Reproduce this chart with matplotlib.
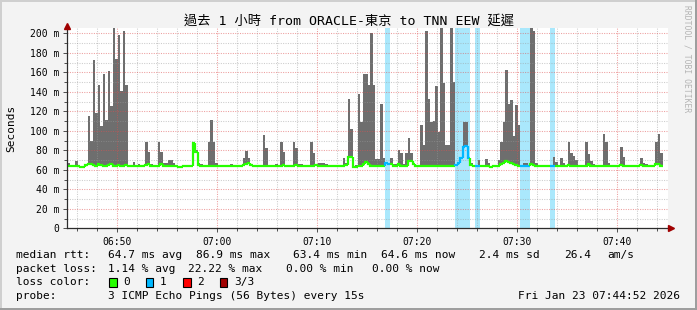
import datetime as dt
import matplotlib
matplotlib.use("Agg")
import matplotlib.pyplot as plt
import matplotlib.dates as mdates
from matplotlib.collections import LineCollection
from matplotlib.patches import Rectangle
from matplotlib.ticker import FixedLocator, MultipleLocator

# ---------------- data ----------------
title = "過去 1 小時 from ORACLE-東京 to TNN EEW 延遲"
first_sample = "2026-01-23 06:45:03"
step_seconds = 15

# top of the smoke (slowest ping) per 15 s step, ms
rtt_max_ms = [
    67, 65, 65, 69, 65, 63, 63, 65, 115, 90,
    173, 118, 147, 105, 158, 111, 161, 125, 205, 174,
    198, 141, 202, 147, 65, 65, 68, 65, 66, 65,
    65, 89, 78, 66, 65, 65, 89, 78, 67, 67,
    70, 70, 67, 65, 63, 63, 65, 65, 65, 65,
    88, 80, 67, 66, 65, 65, 88, 111, 88, 67,
    65, 65, 65, 65, 65, 66, 65, 65, 65, 65,
    72, 79, 72, 66, 65, 65, 65, 65, 96, 82,
    65, 65, 65, 66, 65, 88, 78, 65, 65, 65,
    88, 82, 66, 66, 65, 65, 65, 88, 77, 65,
    67, 67, 67, 66, 65, 65, 65, 65, 65, 65,
    72, 67, 133, 102, 64, 65, 138, 109, 158, 158,
    147, 200, 147, 71, 71, 127, 72, 67, 66, 72,
    66, 66, 80, 77, 66, 77, 93, 77, 67, 65,
    65, 106, 85, 202, 133, 109, 110, 146, 99, 205,
    149, 85, 85, 205, 150, 66, 67, 72, 109, 109,
    72, 67, 65, 65, 70, 65, 65, 71, 67, 63,
    65, 65, 70, 89, 109, 162, 127, 132, 95, 126,
    106, 65, 67, 67, 65, 205, 202, 67, 65, 65,
    65, 65, 65, 65, 73, 68, 65, 72, 67, 65,
    88, 77, 74, 70, 65, 65, 65, 89, 76, 69,
    66, 65, 65, 65, 97, 88, 67, 65, 65, 65,
    65, 83, 73, 65, 65, 65, 65, 65, 65, 72,
    67, 66, 65, 65, 65, 89, 97, 77,
]

# median rtt per step, ms
rtt_median_ms = [
    64.3, 64.3, 64.0, 64.3, 64.3, 62.5, 62.5, 65.0, 65.5, 65.5,
    64.5, 64.3, 65.5, 65.0, 64.3, 64.3, 64.5, 65.5, 64.3, 64.3,
    64.5, 64.3, 64.3, 64.5, 64.3, 64.3, 64.3, 64.3, 64.3, 64.3,
    64.3, 65.0, 65.5, 64.3, 64.3, 64.3, 64.3, 65.5, 64.3, 64.3,
    64.3, 64.3, 64.3, 64.3, 62.5, 62.5, 64.0, 64.3, 64.3, 64.3,
    87.0, 78.0, 65.0, 64.3, 64.3, 64.3, 64.3, 64.3, 64.3, 64.3,
    64.3, 64.3, 64.3, 64.3, 64.3, 64.3, 64.3, 64.3, 64.3, 64.3,
    65.0, 66.0, 66.5, 64.8, 64.3, 64.3, 64.3, 64.3, 64.3, 64.3,
    64.3, 64.3, 64.3, 64.3, 64.3, 64.3, 65.0, 64.3, 64.3, 64.3,
    64.3, 64.5, 64.3, 64.3, 64.3, 64.3, 64.3, 64.3, 64.3, 65.0,
    64.3, 64.3, 64.3, 64.3, 64.3, 64.3, 64.3, 64.3, 64.3, 64.3,
    64.3, 65.0, 73.0, 73.0, 62.5, 63.0, 64.3, 64.3, 66.0, 68.0,
    66.0, 64.3, 64.3, 64.3, 64.3, 64.3, 64.3, 67.0, 66.0, 66.0,
    64.3, 64.3, 65.5, 64.3, 64.3, 64.3, 69.0, 69.0, 66.0, 64.3,
    64.3, 64.0, 64.3, 64.3, 64.3, 64.3, 64.3, 64.3, 64.3, 64.3,
    64.3, 64.3, 64.3, 64.3, 64.3, 64.5, 66.6, 72.0, 83.0, 84.0,
    72.0, 65.0, 64.3, 64.3, 64.3, 64.3, 64.3, 64.3, 64.3, 62.5,
    64.3, 64.3, 64.3, 65.5, 67.0, 69.0, 68.0, 67.0, 66.0, 65.0,
    64.3, 64.3, 64.3, 64.3, 64.3, 66.0, 65.0, 64.3, 64.3, 64.3,
    64.3, 64.3, 64.3, 64.3, 64.3, 64.3, 64.3, 64.3, 64.3, 64.3,
    65.0, 64.3, 64.3, 64.3, 64.3, 64.3, 64.3, 64.3, 65.5, 64.3,
    64.3, 64.3, 64.3, 64.3, 64.3, 64.3, 64.3, 64.3, 64.3, 64.3,
    64.3, 65.0, 64.3, 64.3, 64.3, 64.3, 64.3, 64.3, 64.3, 65.0,
    64.3, 64.3, 64.3, 64.3, 64.3, 65.5, 65.5, 64.3,
]

# lost pings (of 3) per step
loss_count = [0] * 238
for _j in [127, 128, 155, 156, 157, 158, 159, 160, 163, 164,
           181, 182, 183, 184, 193, 194]:
    loss_count[_j] = 1

y_ticks_ms = [0, 20, 40, 60, 80, 100, 120, 140, 160, 180, 200]
y_tick_labels = ["0", "20 m", "40 m", "60 m", "80 m", "100 m", "120 m",
                 "140 m", "160 m", "180 m", "200 m"]
x_tick_labels = ["06:50", "07:00", "07:10", "07:20", "07:30", "07:40"]
y_label = "Seconds"

loss_legend_labels = ["0", "1", "2", "3/3"]
loss_colors = ["#26ff00", "#00b8ff", "#ff0000", "#a00000"]

stats_rtt = ["median rtt:", "64.7 ms avg", "86.9 ms max", "63.4 ms min",
             "64.6 ms now", "2.4 ms sd", "26.4", "am/s"]
stats_loss = ["packet loss:", "1.14 % avg", "22.22 % max", "0.00 % min",
              "0.00 % now"]
probe_text = ["probe:", "3 ICMP Echo Pings (56 Bytes) every 15s"]
timestamp_text = "Fri Jan 23 07:44:52 2026"
watermark = "RRDTOOL / TOBI OETIKER"

# ---------------- figure ----------------
W, H = 697, 310
MONO = ["DejaVu Sans Mono", "Noto Sans CJK TC"]
plt.rcParams["font.family"] = MONO

fig = plt.figure(figsize=(W / 100, H / 100), dpi=100, facecolor="#f3f3f3")


def fx(px):
    return px / W


def fy(py):
    return 1 - py / H


ax_left, ax_right, ax_top, ax_bot = 66.7, 667.7, 27.7, 228.3
ax = fig.add_axes([fx(ax_left), fy(ax_bot), (ax_right - ax_left) / W,
                   (ax_bot - ax_top) / H])
ax.set_facecolor("white")

t0 = dt.datetime.fromisoformat(first_sample)
n = len(rtt_max_ms)
starts = [t0 + dt.timedelta(seconds=step_seconds * j) for j in range(n + 1)]
xs = mdates.date2num(starts)
w = step_seconds / 86400.0
ytop = 205.7

# loss background bands
for j in range(n):
    if loss_count[j] > 0:
        ax.bar(xs[j], ytop, bottom=0, width=w, align="edge",
               color="#aae8fc", linewidth=0, zorder=1)

# smoke
heights = [max(rtt_max_ms[j] - rtt_median_ms[j], 0) for j in range(n)]
ax.bar(xs[:n], heights, bottom=rtt_median_ms, width=w, align="edge",
       color="#6e6e6e", linewidth=0, zorder=2)

# median line coloured by loss
segs, cols = [], []
for j in range(n):
    prev = rtt_median_ms[j - 1] if j > 0 else rtt_median_ms[j]
    segs.append([(xs[j], prev), (xs[j], rtt_median_ms[j]),
                 (xs[j + 1], rtt_median_ms[j])])
    cols.append(loss_colors[loss_count[j]])
ax.add_collection(LineCollection(segs, colors=cols, linewidths=1.6,
                                 zorder=4, capstyle="butt",
                                 joinstyle="miter"))

base_date = t0.date()
xmin = dt.datetime.combine(base_date, dt.time(6, 44, 56))
xmax = dt.datetime.combine(base_date, dt.time(7, 45, 2))
ax.set_xlim(mdates.date2num(xmin), mdates.date2num(xmax))
ax.set_ylim(0, ytop)

xt = [mdates.date2num(dt.datetime.combine(base_date, dt.time.fromisoformat(l)))
      for l in x_tick_labels]
ax.xaxis.set_major_locator(FixedLocator(xt))
ax.set_xticklabels(x_tick_labels)
ax.xaxis.set_minor_locator(mdates.MinuteLocator(byminute=range(0, 60, 2)))
ax.yaxis.set_major_locator(FixedLocator(y_ticks_ms))
ax.set_yticklabels(y_tick_labels)
ax.yaxis.set_minor_locator(MultipleLocator(10))

ax.grid(which="minor", color="#9a9a9a", alpha=0.5, linestyle=(0, (1, 1.3)),
        linewidth=0.75)
ax.grid(which="major", color="#de5050", alpha=0.55, linestyle=(0, (1, 1.3)),
        linewidth=0.75)
ax.set_axisbelow(False)
for gl in ax.get_xgridlines() + ax.get_ygridlines():
    gl.set_zorder(3)

ax.tick_params(axis="both", which="both", labelsize=7, colors="#333333",
               labelcolor="black", width=0.6)
ax.tick_params(axis="both", which="major", length=3)
ax.tick_params(axis="both", which="minor", length=2)
ax.tick_params(axis="y", pad=2.5)
ax.tick_params(axis="x", pad=3)

for s in ["top", "right"]:
    ax.spines[s].set_visible(False)
for s in ["left", "bottom"]:
    ax.spines[s].set_color("#2c2c2c")
    ax.spines[s].set_linewidth(0.9)
    ax.spines[s].set_zorder(5)

# axis arrows
ax.plot([1.0 + 3 / 601], [0], marker=">", color="#a00000", ms=4,
        transform=ax.transAxes, clip_on=False, zorder=6)
ax.plot([0], [1.0 + 2 / 200.6], marker="^", color="#a00000", ms=4,
        transform=ax.transAxes, clip_on=False, zorder=6)

# y label
fig.text(fx(11), fy(128), y_label, rotation=90, ha="center", va="center",
         fontsize=8)

# title
fig.text(0.5, fy(21.5), title, ha="center", va="center", fontsize=9.5)

# watermark
fig.text(fx(686.5), fy(59), watermark, rotation=270, ha="center",
         va="center", fontsize=5.8, color="#b4b4b4")

# stats legend
rtt_x = [16, 107.6, 196, 293, 381, 479, 564, 607]
for s, x in zip(stats_rtt, rtt_x):
    fig.text(fx(x), fy(255), s, ha="left", va="center", fontsize=8)
loss_x = [16, 107.6, 188.4, 285.8, 372.4]
for s, x in zip(stats_loss, loss_x):
    fig.text(fx(x), fy(268.5), s, ha="left", va="center", fontsize=8)

fig.text(fx(16), fy(282.3), "loss color:", ha="left", va="center", fontsize=8)
box_x = [109, 145.8, 183, 220]
lab_x = [123.5, 160, 197, 234]
for lbl, col, bx, lx in zip(loss_legend_labels, loss_colors, box_x, lab_x):
    fig.add_artist(Rectangle((fx(bx), fy(286.7)), 7.5 / W, 8.4 / H,
                             transform=fig.transFigure, facecolor=col,
                             edgecolor="black", linewidth=0.8))
    fig.text(fx(lx), fy(282.3), lbl, ha="left", va="center", fontsize=8)

fig.text(fx(16), fy(296.3), probe_text[0], ha="left", va="center", fontsize=8)
fig.text(fx(107.6), fy(296.3), probe_text[1], ha="left", va="center",
         fontsize=8)
fig.text(fx(680.5), fy(296.3), timestamp_text, ha="right", va="center",
         fontsize=8)

# frame shading
fig.add_artist(Rectangle((1 - 2 / W, 0), 2 / W, 1, transform=fig.transFigure,
                         facecolor="#9e9e9e", edgecolor="none"))
fig.add_artist(Rectangle((0, 0), 1, 2 / H, transform=fig.transFigure,
                         facecolor="#9e9e9e", edgecolor="none"))
fig.add_artist(Rectangle((0, 1 - 2 / H), 1 - 2 / W, 2 / H,
                         transform=fig.transFigure, facecolor="#cfcfcf",
                         edgecolor="none"))
fig.add_artist(Rectangle((0, 2 / H), 2 / W, 1 - 4 / H,
                         transform=fig.transFigure, facecolor="#cfcfcf",
                         edgecolor="none"))

fig.savefig("out.png", dpi=100, facecolor=fig.get_facecolor())
